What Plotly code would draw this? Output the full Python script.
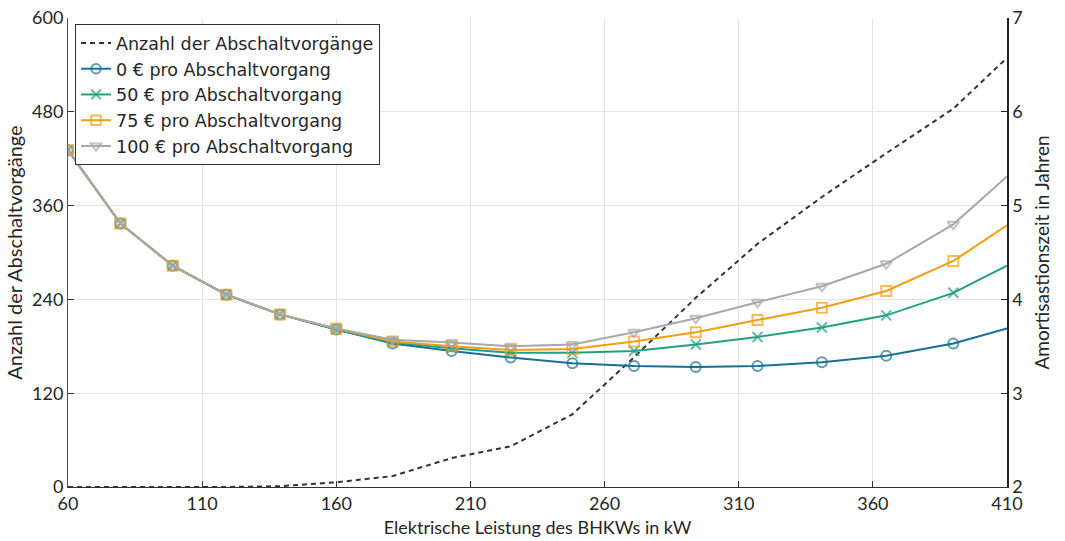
import plotly.graph_objects as go

# BHKW electrical power (kW)
leistung = [60, 79.5, 99, 119, 139, 160, 181, 203, 225, 248, 271, 294, 317, 341, 365, 390, 410]

# Number of shutdowns (left axis)
abschaltungen = [0, 0, 0, 0, 1, 6, 14, 37, 52, 93, 166, 242, 311, 371, 427, 484, 549]

# Payback time in years (right axis)
amort_0 = [5.59, 4.81, 4.36, 4.05, 3.84, 3.68, 3.53, 3.45, 3.38, 3.32, 3.29, 3.28, 3.29, 3.33, 3.40, 3.53, 3.69]
amort_50 = [5.59, 4.81, 4.36, 4.05, 3.84, 3.68, 3.54, 3.48, 3.43, 3.43, 3.45, 3.52, 3.60, 3.70, 3.83, 4.07, 4.36]
amort_75 = [5.59, 4.81, 4.36, 4.05, 3.84, 3.69, 3.55, 3.50, 3.46, 3.47, 3.55, 3.65, 3.78, 3.91, 4.09, 4.41, 4.79]
amort_100 = [5.59, 4.81, 4.36, 4.05, 3.84, 3.69, 3.57, 3.54, 3.50, 3.52, 3.65, 3.80, 3.97, 4.14, 4.38, 4.80, 5.31]

names = ["Anzahl der Abschaltvorgänge", "0 € pro Abschaltvorgang", "50 € pro Abschaltvorgang",
         "75 € pro Abschaltvorgang", "100 € pro Abschaltvorgang"]
colors = ["#333333", "#1a6f99", "#22a085", "#f49d14", "#a8a8a8"]
symbols = ["circle-open", "x-thin-open", "square-open", "triangle-down-open"]

FONT = "Lato"
TXT = "#262626"

msizes = [10] * (len(leistung) - 1) + [0]

fig = go.Figure()
fig.add_trace(go.Scatter(x=leistung, y=abschaltungen, name=names[0], mode="lines",
                         line=dict(color=colors[0], width=2, dash="5px,4px"), yaxis="y"))
for nm, col, sym, vals in zip(names[1:], colors[1:], symbols, [amort_0, amort_50, amort_75, amort_100]):
    fig.add_trace(go.Scatter(x=leistung, y=vals, name=nm, mode="lines+markers", yaxis="y2",
                             line=dict(color=col, width=2),
                             marker=dict(symbol=sym, size=msizes, color=col, line=dict(width=2, color=col))))

fig.update_layout(
    width=1065, height=541,
    margin=dict(l=68, r=58, t=18, b=54),
    paper_bgcolor="white", plot_bgcolor="white",
    font=dict(family=FONT, size=18, color=TXT),
    showlegend=True,
    legend=dict(x=0.0075, y=0.987, xanchor="left", yanchor="top",
                bgcolor="white", bordercolor="#333333", borderwidth=1,
                font=dict(family="DejaVu Sans", size=17.5, color=TXT),
                tracegroupgap=0, itemwidth=30),
    xaxis=dict(range=[60, 410], tickmode="array", tickvals=[60, 110, 160, 210, 260, 310, 360, 410],
               ticks="inside", ticklen=6, tickcolor="#333333", automargin=False,
               showline=True, linecolor="#333333", linewidth=1,
               showgrid=True, gridcolor="#e3e3e3", gridwidth=1, zeroline=False,
               title=dict(text="Elektrische Leistung des BHKWs in kW", standoff=8,
                          font=dict(size=18)),
               tickfont=dict(size=18, color=TXT)),
    yaxis=dict(range=[0, 600], tickmode="array", tickvals=[0, 120, 240, 360, 480, 600],
               ticks="inside", ticklen=6, tickcolor="#333333", automargin=False,
               ticklabeloverflow="allow",
               showline=True, linecolor="#555555", linewidth=1,
               showgrid=True, gridcolor="#e3e3e3", gridwidth=1, zeroline=False,
               title=dict(text="Anzahl der Abschaltvorgänge", standoff=4, font=dict(size=20)),
               tickfont=dict(size=18, color=TXT)),
    yaxis2=dict(range=[2, 7], overlaying="y", side="right", tickmode="array", tickvals=[2, 3, 4, 5, 6, 7],
                ticks="inside", ticklen=6, tickcolor="#222222", automargin=False,
                ticklabeloverflow="allow",
                showline=True, linecolor="#222222", linewidth=1.5,
                showgrid=False, zeroline=False,
                title=dict(text="Amortisastionszeit in Jahren", standoff=14, font=dict(size=19)),
                tickfont=dict(size=18, color=TXT)),
)

fig.write_html("out.html", config={"displayModeBar": False},
               post_script="document.body.style.margin='0px';document.documentElement.style.overflow='hidden';")
